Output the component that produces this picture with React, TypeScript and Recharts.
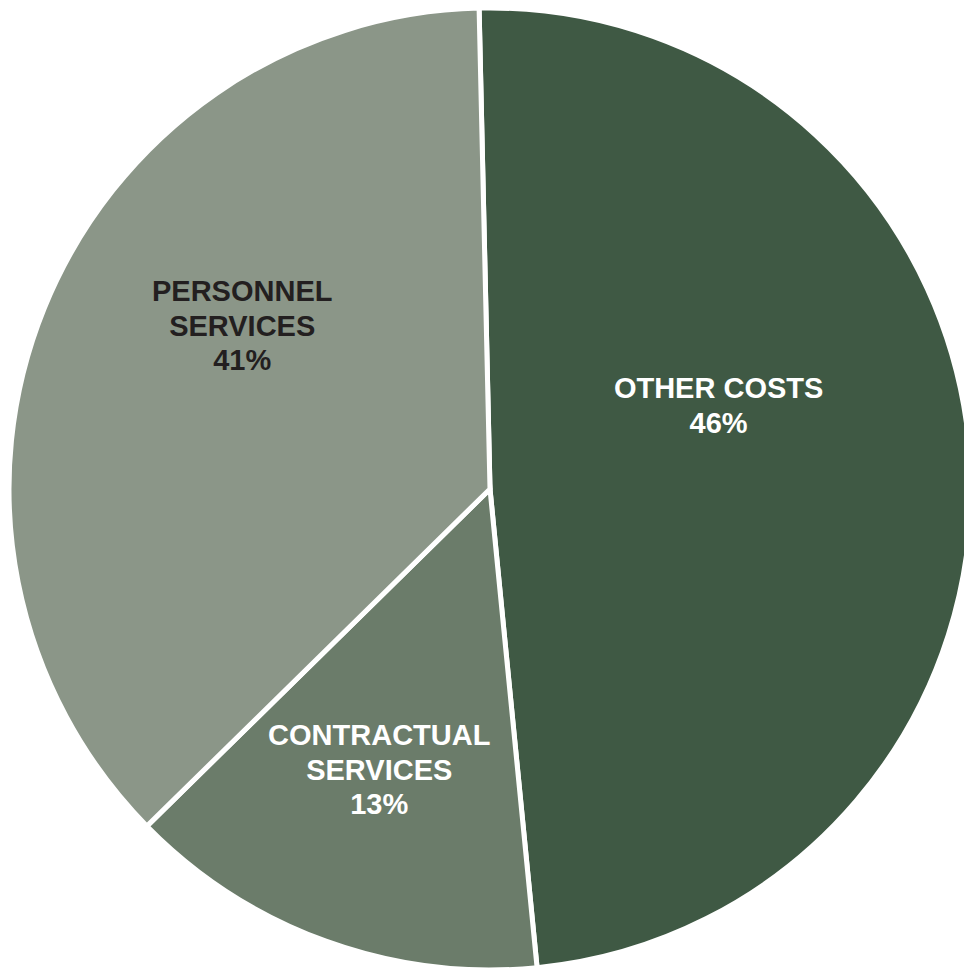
import { PieChart, Pie, Cell } from "recharts";

// slice shares as drawn (clockwise from top) and the printed labels
const categories = ["OTHER COSTS", "CONTRACTUAL SERVICES", "PERSONNEL SERVICES"];
const shares = [48.8, 14.2, 37.0];
const percentLabels = ["46%", "13%", "41%"];
const labelLines = [["OTHER COSTS"], ["CONTRACTUAL", "SERVICES"], ["PERSONNEL", "SERVICES"]];

const COLORS = ["#3f5944", "#6b7c6a", "#8b9688"];
const TEXT_COLORS = ["#ffffff", "#ffffff", "#231f20"];
// label placement relative to slice: fraction of radius and angle shift (deg)
const LABEL_POS = [
  { r: 0.506, shift: 16.6 },
  { r: 0.627, shift: -1.6 },
  { r: 0.617, shift: -11.3 },
];

const data = categories.map((name, i) => ({ name, value: shares[i] }));

const RADIAN = Math.PI / 180;

const renderLabel = (props: any) => {
  const { cx, cy, midAngle, outerRadius, index } = props;
  const pos = LABEL_POS[index];
  const angle = (midAngle + pos.shift) * RADIAN;
  const r = outerRadius * pos.r;
  const x = cx + r * Math.cos(angle);
  const y = cy - r * Math.sin(angle);
  const lines = [...labelLines[index], percentLabels[index]];
  const lh = 34.5;
  const top = y - ((lines.length - 1) * lh) / 2;
  return (
    <text
      x={x}
      y={top}
      textAnchor="middle"
      dominantBaseline="central"
      fill={TEXT_COLORS[index]}
      style={{ fontFamily: "'Liberation Sans', Arial, sans-serif", fontSize: 29, fontWeight: 700 }}
    >
      {lines.map((l, i) => (
        <tspan key={i} x={x} y={top + i * lh}>
          {l}
        </tspan>
      ))}
    </text>
  );
};

const App = () => {
  return (
    <div style={{ position: "absolute", left: 0, top: 0, width: 964, height: 969, background: "#ffffff" }}>
      <PieChart width={964} height={969} margin={{ top: 0, right: 0, bottom: 0, left: 0 }}>
        <Pie
          data={data}
          dataKey="value"
          nameKey="name"
          cx={490}
          cy={489}
          outerRadius={481}
          startAngle={91.3}
          endAngle={-268.7}
          stroke="#ffffff"
          strokeWidth={5}
          labelLine={false}
          label={renderLabel}
          isAnimationActive={false}
        >
          {data.map((entry, i) => (
            <Cell key={entry.name} fill={COLORS[i]} />
          ))}
        </Pie>
      </PieChart>
    </div>
  );
};

export default App;
